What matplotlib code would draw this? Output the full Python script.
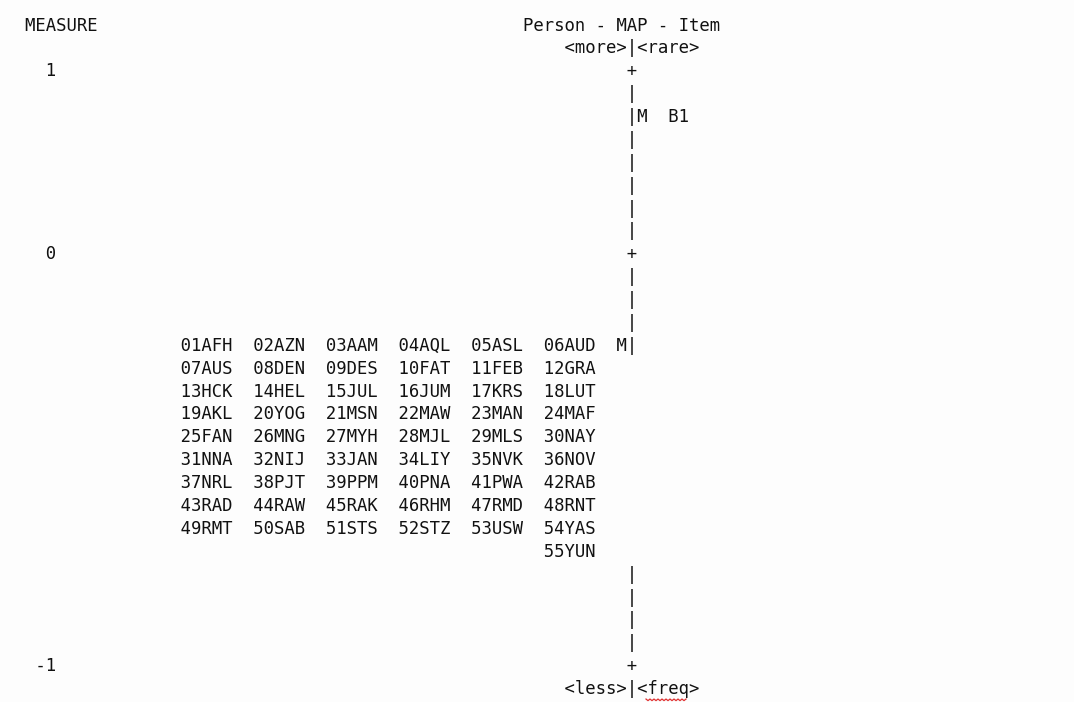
# Winsteps-style Person - MAP - Item, redrawn as monospace text

import numpy as np
import matplotlib.pyplot as plt

# %% data

persons = ['01AFH', '02AZN', '03AAM', '04AQL', '05ASL', '06AUD',
           '07AUS', '08DEN', '09DES', '10FAT', '11FEB', '12GRA',
           '13HCK', '14HEL', '15JUL', '16JUM', '17KRS', '18LUT',
           '19AKL', '20YOG', '21MSN', '22MAW', '23MAN', '24MAF',
           '25FAN', '26MNG', '27MYH', '28MJL', '29MLS', '30NAY',
           '31NNA', '32NIJ', '33JAN', '34LIY', '35NVK', '36NOV',
           '37NRL', '38PJT', '39PPM', '40PNA', '41PWA', '42RAB',
           '43RAD', '44RAW', '45RAK', '46RHM', '47RMD', '48RNT',
           '49RMT', '50SAB', '51STS', '52STZ', '53USW', '54YAS',
           '55YUN']
items = ['B1']
measure_ticks = ['1', '0', '-1']
tick_rows = [0, 8, 26]          # text row of each measure tick
item_row = 2                    # row of item B1 (and item mean M)
person_row = 12                 # first row of the person block
per_line = 6

# %% layout of the text grid (pixels of the 1074x702 screenshot)

W, H = 1074, 702
x0 = 25.0          # left edge of column 0
cw = 10.35         # character width
y0 = 70            # centre of row 0
rh = 22.88         # row height
fs = cw * 72 / 100 / 0.602   # DejaVu Sans Mono advance is 0.602 em
pipe_col = 58
name_col = 15
ink = '#111111'


def put(row, text):
    """Place a line of monospace text on the grid (row can be negative)."""
    lines[row] = text


def pad(s, col):
    return s + ' ' * (col - len(s))


lines = {}
put(-2, pad('MEASURE', 48) + 'Person - MAP - Item')
put(-1, pad('', pipe_col - 6) + '<more>|<rare>')

last_row = tick_rows[-1]
for r in range(0, last_row + 1):
    lines[r] = pad('', pipe_col) + '|'

for lab, r in zip(measure_ticks, tick_rows):
    lines[r] = pad(lab.rjust(3), pipe_col) + '+'

lines[item_row] = pad('', pipe_col) + '|M  ' + '  '.join(items)

rows = [persons[i:i + per_line] for i in range(0, len(persons), per_line)]
for k, chunk in enumerate(rows):
    r = person_row + k
    s = ' ' * name_col
    if len(chunk) < per_line:
        s += ' ' * (7 * (per_line - len(chunk)))
    s += '  '.join(chunk)
    if k == 0:
        lines[r] = pad(s, pipe_col - 1) + 'M|'
    else:
        lines[r] = s

put(last_row + 1, pad('', pipe_col - 6) + '<less>|<freq>')

# %% draw

fig = plt.figure(figsize=(W / 100, H / 100), dpi=100)
fig.patch.set_facecolor('#fdfdfd')
ax = fig.add_axes([0, 0, 1, 1])
ax.set_xlim(0, W)
ax.set_ylim(H, 0)
ax.axis('off')

cap = fs * 100 / 72 * 0.729
for r, s in lines.items():
    ax.text(x0, y0 + r * rh + cap / 2, s, family='DejaVu Sans Mono',
            fontsize=fs, color=ink, ha='left', va='baseline')

# red spell-check squiggle under "freq"
r = last_row + 1
xs = np.arange(x0 + (pipe_col + 2) * cw, x0 + (pipe_col + 6) * cw, 2.0)
ys = y0 + r * rh + cap / 2 + 5 + np.where(np.arange(len(xs)) % 2 == 0, 0, 1.6)
ax.plot(xs, ys, color='#e03030', lw=0.9)

plt.savefig('out.png', dpi=100, facecolor=fig.get_facecolor())
